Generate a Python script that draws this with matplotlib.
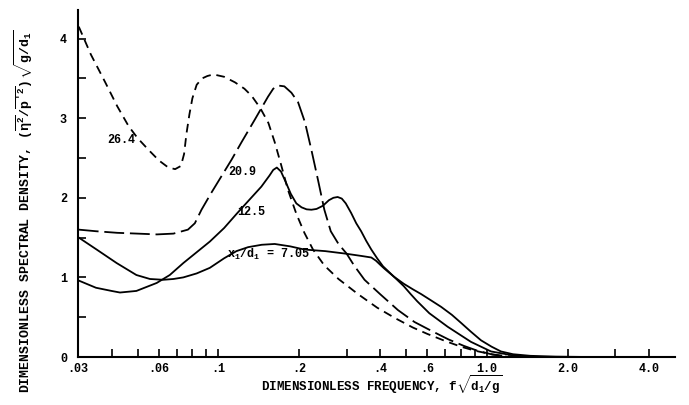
import matplotlib
matplotlib.use("Agg")
import matplotlib.pyplot as plt
from matplotlib.ticker import FixedLocator, FixedFormatter, NullFormatter

plt.rcParams['font.family'] = ['Liberation Mono', 'DejaVu Sans']
plt.rcParams['font.weight'] = 'bold'
plt.rcParams['mathtext.fontset'] = 'custom'
plt.rcParams['mathtext.rm'] = 'Liberation Mono:bold'
plt.rcParams['mathtext.it'] = 'Liberation Mono:bold'
plt.rcParams['mathtext.bf'] = 'Liberation Mono:bold'

# ---- data ----
f_264 = [0.0302, 0.0335, 0.0379, 0.042, 0.0463, 0.050, 0.055, 0.060, 0.0651, 0.069, 0.0725,
         0.0745, 0.076, 0.078, 0.080, 0.083, 0.087, 0.091, 0.0958, 0.105, 0.1153, 0.125, 0.133,
         0.143, 0.1535, 0.162, 0.171, 0.1815, 0.195, 0.209, 0.225, 0.248, 0.28, 0.331, 0.39,
         0.454, 0.53, 0.60, 0.70, 0.80, 0.90, 1.02, 1.2]
s_264 = [4.15, 3.80, 3.45, 3.15, 2.90, 2.75, 2.60, 2.47, 2.38, 2.36, 2.40,
         2.55, 2.80, 3.05, 3.25, 3.42, 3.50, 3.53, 3.55, 3.52, 3.45, 3.37, 3.28,
         3.13, 2.94, 2.70, 2.42, 2.10, 1.80, 1.56, 1.35, 1.15, 0.98, 0.79, 0.62,
         0.49, 0.37, 0.29, 0.20, 0.13, 0.08, 0.04, 0.0]

f_209 = [0.0302, 0.035, 0.042, 0.050, 0.059, 0.068, 0.077, 0.0817, 0.0865, 0.094, 0.1026,
         0.112, 0.122, 0.1365, 0.153, 0.160, 0.167, 0.176, 0.187, 0.198, 0.21, 0.222, 0.235,
         0.248, 0.262, 0.28, 0.30, 0.32, 0.35, 0.40, 0.466, 0.537, 0.62, 0.72, 0.82, 0.92,
         1.05, 1.2, 1.4]
s_209 = [1.60, 1.58, 1.56, 1.55, 1.54, 1.55, 1.60, 1.68, 1.85, 2.06, 2.27,
         2.48, 2.70, 2.98, 3.27, 3.37, 3.41, 3.40, 3.32, 3.20, 2.95, 2.60, 2.22,
         1.85, 1.58, 1.42, 1.30, 1.15, 0.97, 0.79, 0.59, 0.44, 0.33, 0.22, 0.14, 0.08,
         0.03, 0.01, 0.0]

f_125 = [0.0302, 0.035, 0.040, 0.043, 0.0495, 0.0589, 0.0659, 0.074, 0.0929, 0.105, 0.117,
         0.130, 0.1445, 0.155, 0.160, 0.165, 0.171, 0.178, 0.186, 0.195, 0.204, 0.213, 0.222,
         0.232, 0.245, 0.258, 0.268, 0.278, 0.288, 0.298, 0.312, 0.326, 0.34, 0.355, 0.371,
         0.39, 0.41, 0.45, 0.49, 0.52, 0.55, 0.61, 0.714, 0.872, 1.035, 1.25, 1.5]
s_125 = [0.96, 0.87, 0.83, 0.81, 0.83, 0.93, 1.03, 1.18, 1.45, 1.62, 1.80,
         1.97, 2.14, 2.28, 2.35, 2.38, 2.33, 2.20, 2.05, 1.93, 1.88, 1.855, 1.85,
         1.86, 1.90, 1.97, 2.00, 2.01, 1.99, 1.93, 1.81, 1.68, 1.58, 1.46, 1.35,
         1.24, 1.14, 1.01, 0.89, 0.79, 0.70, 0.55, 0.38, 0.19, 0.07, 0.02, 0.0]

f_705 = [0.0302, 0.0352, 0.0418, 0.0495, 0.0556, 0.0623, 0.068, 0.074, 0.083, 0.0929, 0.105,
         0.1167, 0.129, 0.145, 0.162, 0.185, 0.209, 0.25, 0.295, 0.34, 0.371, 0.386, 0.40,
         0.415, 0.45, 0.49, 0.53, 0.569, 0.62, 0.675, 0.74, 0.80, 0.87, 0.95, 1.04, 1.127,
         1.25, 1.45, 1.8, 2.4]
s_705 = [1.50, 1.35, 1.18, 1.03, 0.98, 0.97, 0.98, 1.00, 1.05, 1.12, 1.24,
         1.33, 1.38, 1.41, 1.42, 1.39, 1.35, 1.33, 1.30, 1.27, 1.25, 1.21, 1.16,
         1.11, 1.01, 0.92, 0.85, 0.79, 0.71, 0.63, 0.53, 0.43, 0.32, 0.21, 0.13, 0.07,
         0.035, 0.015, 0.005, 0.0]

x_ticks = [0.03, 0.06, 0.1, 0.2, 0.4, 0.6, 1.0, 2.0, 4.0]
x_ticklabels = ['.03', '.06', '.1', '.2', '.4', '.6', '1.0', '2.0', '4.0']
x_minor = [0.04, 0.05, 0.07, 0.08, 0.09, 0.3, 0.5, 0.7, 0.8, 0.9, 3.0]
y_ticks = [0, 1, 2, 3, 4]
y_minor = [0.5, 1.5, 2.5, 3.5]

# ---- figure ----
fig = plt.figure(figsize=(6.89, 4.05), dpi=100)
ax = fig.add_axes([0.1132, 0.1185, 0.866, 0.857])

lw = 1.3
ax.plot(f_264, s_264, color='black', lw=lw, linestyle=(0, (4.8, 3.2)))
ax.plot(f_209, s_209, color='black', lw=lw, linestyle=(0, (11, 3.2)))
ax.plot(f_125, s_125, color='black', lw=lw, linestyle='-')
ax.plot(f_705, s_705, color='black', lw=lw, linestyle='-')

ax.set_xscale('log')
ax.set_xlim(0.03, 5.0)
ax.set_ylim(0, 4.36)

ax.xaxis.set_major_locator(FixedLocator(x_ticks))
ax.xaxis.set_major_formatter(FixedFormatter(x_ticklabels))
ax.xaxis.set_minor_locator(FixedLocator(x_minor))
ax.xaxis.set_minor_formatter(NullFormatter())
ax.yaxis.set_major_locator(FixedLocator(y_ticks))
ax.yaxis.set_minor_locator(FixedLocator(y_minor))

for s in ['top', 'right']:
    ax.spines[s].set_visible(False)
for s in ['left', 'bottom']:
    ax.spines[s].set_linewidth(1.5)

ax.tick_params(which='both', direction='in', length=6, width=1.2, labelsize=8.5, pad=4)
ax.tick_params(axis='y', which='major', pad=8)

fs = 8.5
ax.text(0.049, 2.73, '26.4', ha='right', va='center', fontsize=fs, fontweight='bold')
ax.text(0.109, 2.33, '20.9', ha='left', va='center', fontsize=fs, fontweight='bold')
ax.text(0.117, 1.82, '12.5', ha='left', va='center', fontsize=fs, fontweight='bold')
ax.text(0.108, 1.29, r'x$_1$/d$_1$ = 7.05', ha='left', va='center', fontsize=fs, fontweight='bold')

fig.text(382/689, 1 - 385/405, r'DIMENSIONLESS FREQUENCY, f$\sqrt{d_1/g}$',
         ha='center', va='center', fontsize=9, fontweight='bold')
fig.text(24/689, 1 - 211/405,
         r"DIMENSIONLESS SPECTRAL DENSITY, $(\overline{\eta^2}/\overline{p'^2})\,\sqrt{g/d_1}$",
         ha='center', va='center', rotation=90, fontsize=9.5, fontweight='bold')

fig.savefig('out.png', dpi=100, facecolor='white')
